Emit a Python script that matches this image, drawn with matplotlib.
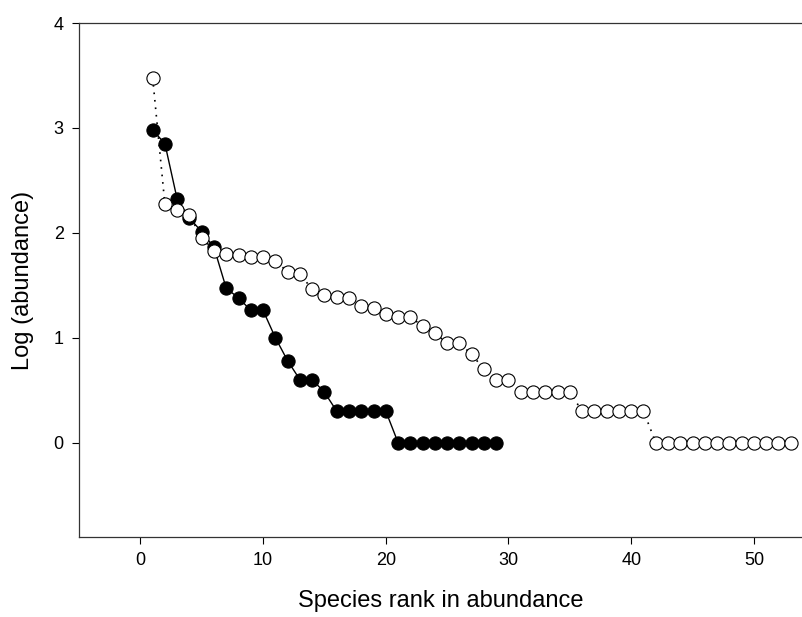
import matplotlib
matplotlib.use("Agg")
import matplotlib.pyplot as plt
import numpy as np

plt.rcParams["font.family"] = ["Liberation Sans", "DejaVu Sans"]

# filled circles, solid line
rank_a = np.arange(1, 30)
log_a = [2.98, 2.85, 2.32, 2.14, 2.01, 1.86, 1.47, 1.38, 1.26, 1.26,
         1.00, 0.78, 0.60, 0.60, 0.48, 0.30, 0.30, 0.30, 0.30, 0.30,
         0, 0, 0, 0, 0, 0, 0, 0, 0]

# open circles, dotted line
rank_b = np.arange(1, 54)
log_b = [3.48, 2.27, 2.22, 2.17, 1.95, 1.83, 1.80, 1.79, 1.77, 1.77,
         1.73, 1.63, 1.61, 1.46, 1.41, 1.39, 1.38, 1.30, 1.28, 1.23,
         1.20, 1.20, 1.11, 1.04, 0.95, 0.95, 0.84, 0.70, 0.60, 0.60,
         0.48, 0.48, 0.48, 0.48, 0.48, 0.30, 0.30, 0.30, 0.30, 0.30,
         0.30, 0, 0, 0, 0, 0, 0, 0, 0, 0, 0, 0, 0]

xticks = [0, 10, 20, 30, 40, 50]
yticks = [0, 1, 2, 3, 4]

fig = plt.figure(figsize=(8.03, 6.17), dpi=100)
ax = fig.add_axes([0.0984, 0.1297, 0.9016, 0.8330])

ax.plot(rank_a, log_a, "-", color="black", linewidth=1.0,
        marker="o", markersize=9.5, markerfacecolor="black",
        markeredgecolor="black", markeredgewidth=0.8, zorder=2)
ax.plot(rank_b, log_b, color="black", linewidth=1.2, dashes=(1, 3.5),
        marker="o", markersize=9.5, markerfacecolor="white",
        markeredgecolor="black", markeredgewidth=0.8, zorder=3)

ax.set_xlim(-5, 54)
ax.set_ylim(-0.9, 4)
ax.set_xticks(xticks)
ax.set_yticks(yticks)
ax.tick_params(direction="out", length=5, width=0.8, labelsize=13, pad=6)
ax.spines["right"].set_visible(False)
for s in ["left", "bottom", "top"]:
    ax.spines[s].set_linewidth(0.9)
    ax.spines[s].set_color("#333333")

ax.set_xlabel("Species rank in abundance", fontsize=17, labelpad=15)
ax.set_ylabel("Log (abundance)", fontsize=17, labelpad=14)

fig.savefig("out.png", dpi=100)
